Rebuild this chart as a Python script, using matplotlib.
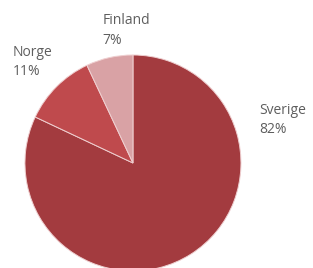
import matplotlib.pyplot as plt

labels = ['Sverige', 'Norge', 'Finland']
shares = [82, 11, 7]
colors = ['#a33b3f', '#bf4a4d', '#d9a2a5']

fig = plt.figure(figsize=(3.13, 2.68), dpi=100)
ax = fig.add_axes([0, 0, 1, 1])

# clockwise from the top, Sverige first
ax.pie(shares, colors=colors, startangle=90, counterclock=False,
       radius=1.0, center=(0, 0),
       wedgeprops={'edgecolor': '#efcfd0', 'linewidth': 0.7})

ax.set_xlim(-1.231, 1.667)
ax.set_ylim(-0.972, 1.509)
ax.set_aspect('equal')
ax.axis('off')

# label positions (left, top) in data units
label_pos = {'Sverige': (1.165, 0.555), 'Norge': (-1.11, 1.095), 'Finland': (-0.285, 1.385)}
for name, val in zip(labels, shares):
    x, y = label_pos[name]
    ax.text(x, y, f'{name}\n{val}%', ha='left', va='top', fontsize=10,
            family='Open Sans', color='#5e5e5e', linespacing=1.4)

fig.savefig('out.png', dpi=100)
